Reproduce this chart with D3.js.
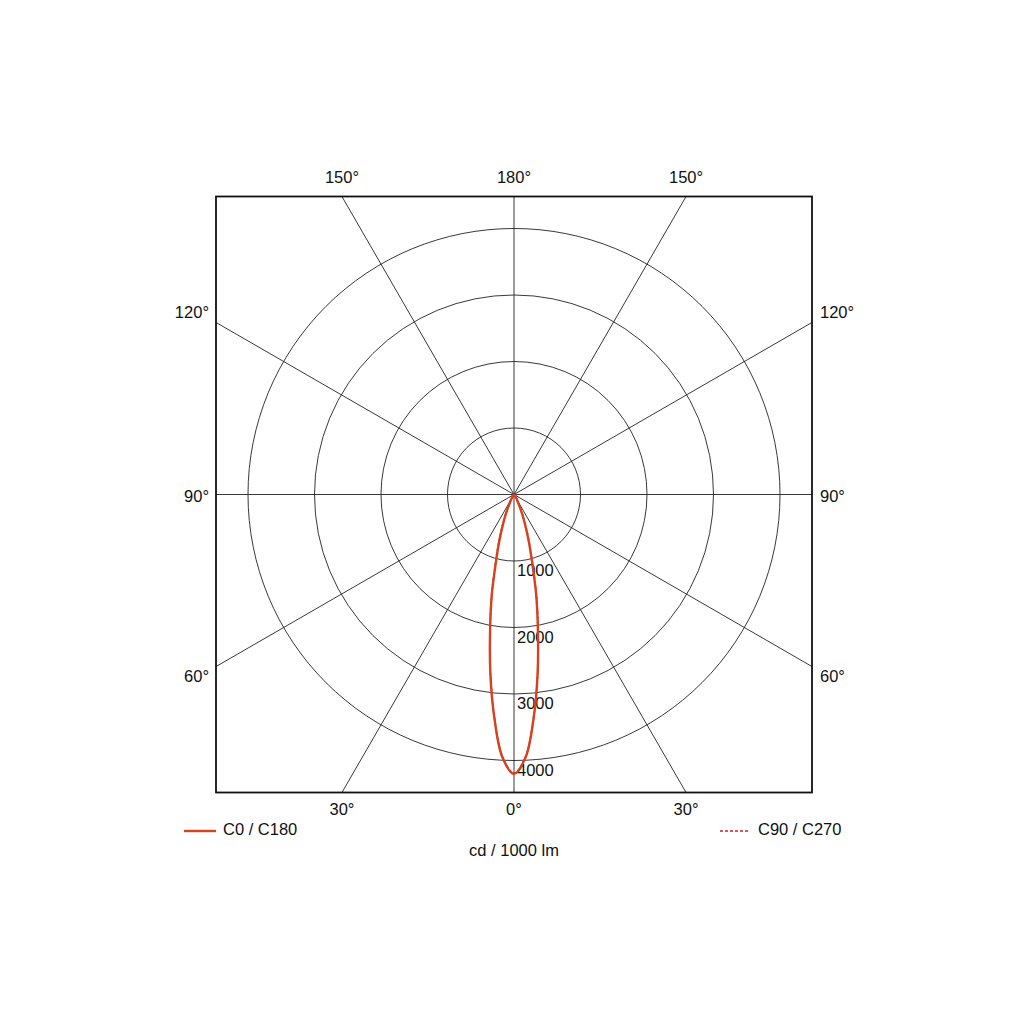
<!DOCTYPE html>
<html>
<head>
<meta charset="utf-8">
<script src="https://cdn.jsdelivr.net/npm/d3@7"></script>
<style>
  html, body { margin: 0; padding: 0; background: #fff; }
  text { font-family: "Liberation Sans", Arial, sans-serif; font-size: 16.5px; fill: #111; }
</style>
</head>
<body>
<svg id="chart" width="1024" height="1024"></svg>
<script>
// ---- data ----
const gammaAngles = [0, 2.5, 5, 7.5, 10, 12.5, 15, 17.5, 20, 22.5, 25, 27.5, 30, 35, 40, 45, 50, 55, 60, 70, 80, 90, 180];
const c0c180Values = [4200, 3960, 3380, 2720, 2070, 1540, 1050, 740, 500, 330, 200, 120, 80, 30, 15, 8, 5, 3, 2, 1, 0, 0, 0];
const c90c270Values = [4190, 3950, 3370, 2720, 2080, 1560, 1080, 770, 530, 360, 230, 140, 90, 35, 17, 9, 5, 3, 2, 1, 0, 0, 0];
const ringValues = [1000, 2000, 3000, 4000];
const spokeAngles = [0, 30, 60, 90, 120, 150, 180, 210, 240, 270, 300, 330];
const topLabels = ["150°", "180°", "150°"];
const bottomLabels = ["30°", "0°", "30°"];
const sideLabels = ["120°", "90°", "60°"];
const legendLabels = ["C0 / C180", "C90 / C270"];
const unitLabel = "cd / 1000 lm";

// ---- layout ----
const svg = d3.select("#chart");
const cx = 514, cy = 494.5;
const half = 298;
const box = { x0: cx - half, x1: cx + half, y0: cy - half, y1: cy + half };
const r = d3.scaleLinear().domain([0, 4000]).range([0, 266]);

svg.append("defs").append("clipPath").attr("id", "boxclip")
  .append("rect").attr("x", box.x0).attr("y", box.y0).attr("width", 2 * half).attr("height", 2 * half);

const grid = svg.append("g").attr("clip-path", "url(#boxclip)");

// rings
grid.selectAll("circle.ring").data(ringValues).join("circle")
  .attr("class", "ring")
  .attr("cx", cx).attr("cy", cy).attr("r", d => r(d))
  .attr("fill", "none").attr("stroke", "#222").attr("stroke-width", 0.9);

// spokes (angle 0 pointing down)
grid.selectAll("line.spoke").data(spokeAngles).join("line")
  .attr("class", "spoke")
  .attr("x1", cx).attr("y1", cy)
  .attr("x2", d => cx + Math.sin(d * Math.PI / 180) * 1000)
  .attr("y2", d => cy + Math.cos(d * Math.PI / 180) * 1000)
  .attr("stroke", "#222").attr("stroke-width", 0.9);

// box
svg.append("rect").attr("x", box.x0).attr("y", box.y0).attr("width", 2 * half).attr("height", 2 * half)
  .attr("fill", "none").attr("stroke", "#111").attr("stroke-width", 1.8);

// ring labels
svg.selectAll("text.rl").data(ringValues).join("text")
  .attr("class", "rl")
  .attr("x", cx + 3).attr("y", d => cy + r(d) + 11)
  .attr("dominant-baseline", "middle")
  .text(d => d);

// angle labels
const t30 = Math.tan(30 * Math.PI / 180);
const xs = [cx - half * t30, cx, cx + half * t30];
svg.selectAll("text.tl").data(topLabels).join("text")
  .attr("class", "tl").attr("x", (d, i) => xs[i]).attr("y", box.y0 - 18)
  .attr("text-anchor", "middle").attr("dominant-baseline", "middle").text(d => d);
svg.selectAll("text.bl").data(bottomLabels).join("text")
  .attr("class", "bl").attr("x", (d, i) => xs[i]).attr("y", box.y1 + 18)
  .attr("text-anchor", "middle").attr("dominant-baseline", "middle").text(d => d);
const ys = [cy - half * t30 - 9, cy + 3, cy + half * t30 + 11];
svg.selectAll("text.sl").data(sideLabels).join("text")
  .attr("class", "sl").attr("x", box.x0 - 7).attr("y", (d, i) => ys[i])
  .attr("text-anchor", "end").attr("dominant-baseline", "middle").text(d => d);
svg.selectAll("text.sr").data(sideLabels).join("text")
  .attr("class", "sr").attr("x", box.x1 + 8).attr("y", (d, i) => ys[i])
  .attr("text-anchor", "start").attr("dominant-baseline", "middle").text(d => d);

// curves
function polarPoints(vals) {
  const right = gammaAngles.map((a, i) => [Math.PI - a * Math.PI / 180, r(vals[i])]).reverse();
  const left = gammaAngles.map((a, i) => [Math.PI + a * Math.PI / 180, r(vals[i])]).slice(1);
  return right.concat(left);
}
const radial = d3.lineRadial().angle(d => d[0]).radius(d => d[1]).curve(d3.curveCatmullRom.alpha(0.5));
const curves = svg.append("g").attr("transform", `translate(${cx},${cy})`);
curves.append("path").datum(polarPoints(c90c270Values))
  .attr("d", radial).attr("fill", "none").attr("stroke", "#c8202e").attr("stroke-width", 1.6)
  .attr("stroke-dasharray", "3,2");
curves.append("path").datum(polarPoints(c0c180Values))
  .attr("d", radial).attr("fill", "none").attr("stroke", "#d8401e").attr("stroke-width", 2.4);

// legend
svg.append("line").attr("x1", 184).attr("x2", 216).attr("y1", 831).attr("y2", 831)
  .attr("stroke", "#d8401e").attr("stroke-width", 2.4);
svg.append("text").attr("x", 223).attr("y", 831).attr("dominant-baseline", "middle").text(legendLabels[0]);
svg.append("line").attr("x1", 720).attr("x2", 750).attr("y1", 831).attr("y2", 831)
  .attr("stroke", "#c8202e").attr("stroke-width", 1.6).attr("stroke-dasharray", "3,2");
svg.append("text").attr("x", 758).attr("y", 831).attr("dominant-baseline", "middle").text(legendLabels[1]);
svg.append("text").attr("x", cx).attr("y", 852).attr("text-anchor", "middle").attr("dominant-baseline", "middle").text(unitLabel);
</script>
</body>
</html>
